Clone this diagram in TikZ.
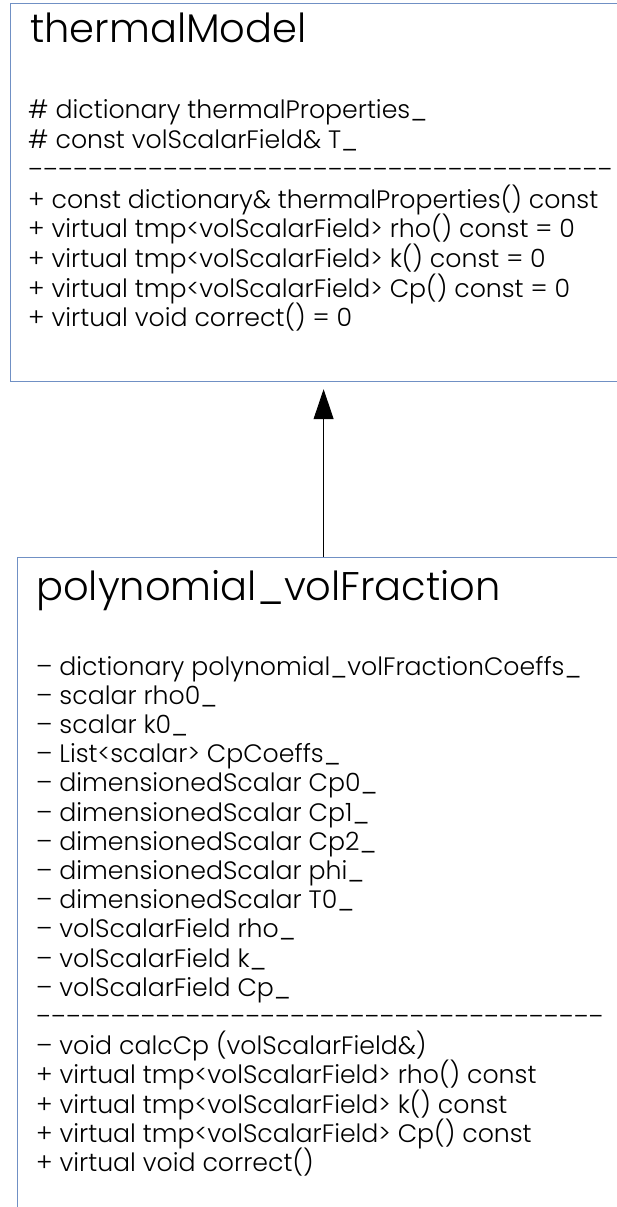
\documentclass[tikz,border=0pt]{standalone}
\usepackage{fontspec}
\setmainfont{Poppins Light}
\usetikzlibrary{arrows.meta}
\definecolor{boxline}{RGB}{112,144,196}
\tikzset{
  classbox/.style={draw=boxline, line width=1.2pt, fill=white, inner sep=0pt, anchor=north west},
  classname/.style={anchor=base west, inner sep=0pt, font=\fontsize{40}{40}\selectfont},
  member/.style={anchor=base west, inner sep=0pt, font=\fontsize{25.2}{25.2}\selectfont},
  inherit/.style={draw=black, line width=0.9pt, -{Triangle[length=30pt,width=20pt]}},
}
% a separator row of dashes, stretched to a given width
\newcommand\dashrow[2]{\resizebox{#1}{\height}{–\foreach \k in {2,...,#2}{\kern0.5pt–}}}
\begin{document}
\begin{tikzpicture}[x=1pt,y=-1pt]
\useasboundingbox (0,0) rectangle (617,1207);
\clip (0,0) rectangle (617,1207);

% base class
\node[classbox, minimum width=626pt, minimum height=378pt] (thermal) at (10,3) {};
\node[classname] (tname) at (30,43) {thermalModel};
\node[member] (t1) at (28,118) {\# dictionary thermalProperties\_};
\node[member] (t2) at (28,148) {\# const volScalarField\& T\_};
\node[member] (tsep) at (28,178) {\dashrow{584pt}{39}};
\node[member] (t3) at (28,208) {+ const dictionary\& thermalProperties() const};
\node[member] (t4) at (28,237.5) {+ virtual tmp<volScalarField> rho() const = 0};
\node[member] (t5) at (28,267) {+ virtual tmp<volScalarField> k() const = 0};
\node[member] (t6) at (28,297) {+ virtual tmp<volScalarField> Cp() const = 0};
\node[member] (t7) at (28,326) {+ virtual void correct() = 0};

% derived class
\node[classbox, minimum width=612pt, minimum height=683pt] (poly) at (17,557) {};
\node[classname] (pname) at (36,600) {polynomial\_volFraction};
\foreach \txt [count=\i from 0] in {
  {– dictionary polynomial\_volFractionCoeffs\_},
  {– scalar rho0\_},
  {– scalar k0\_},
  {– List<scalar> CpCoeffs\_},
  {– dimensionedScalar Cp0\_},
  {– dimensionedScalar Cp1\_},
  {– dimensionedScalar Cp2\_},
  {– dimensionedScalar phi\_},
  {– dimensionedScalar T0\_},
  {– volScalarField rho\_},
  {– volScalarField k\_},
  {– volScalarField Cp\_},
  {\dashrow{567pt}{38}},
  {– void calcCp (volScalarField\&)},
  {+ virtual tmp<volScalarField> rho() const},
  {+ virtual tmp<volScalarField> k() const},
  {+ virtual tmp<volScalarField> Cp() const},
  {+ virtual void correct()}}
  \node[member] (p\i) at (36,675+29.2*\i) {\txt};

% generalisation arrow
\draw[inherit] (poly.north) -- ([yshift=-7pt]thermal.south);
\end{tikzpicture}
\end{document}
